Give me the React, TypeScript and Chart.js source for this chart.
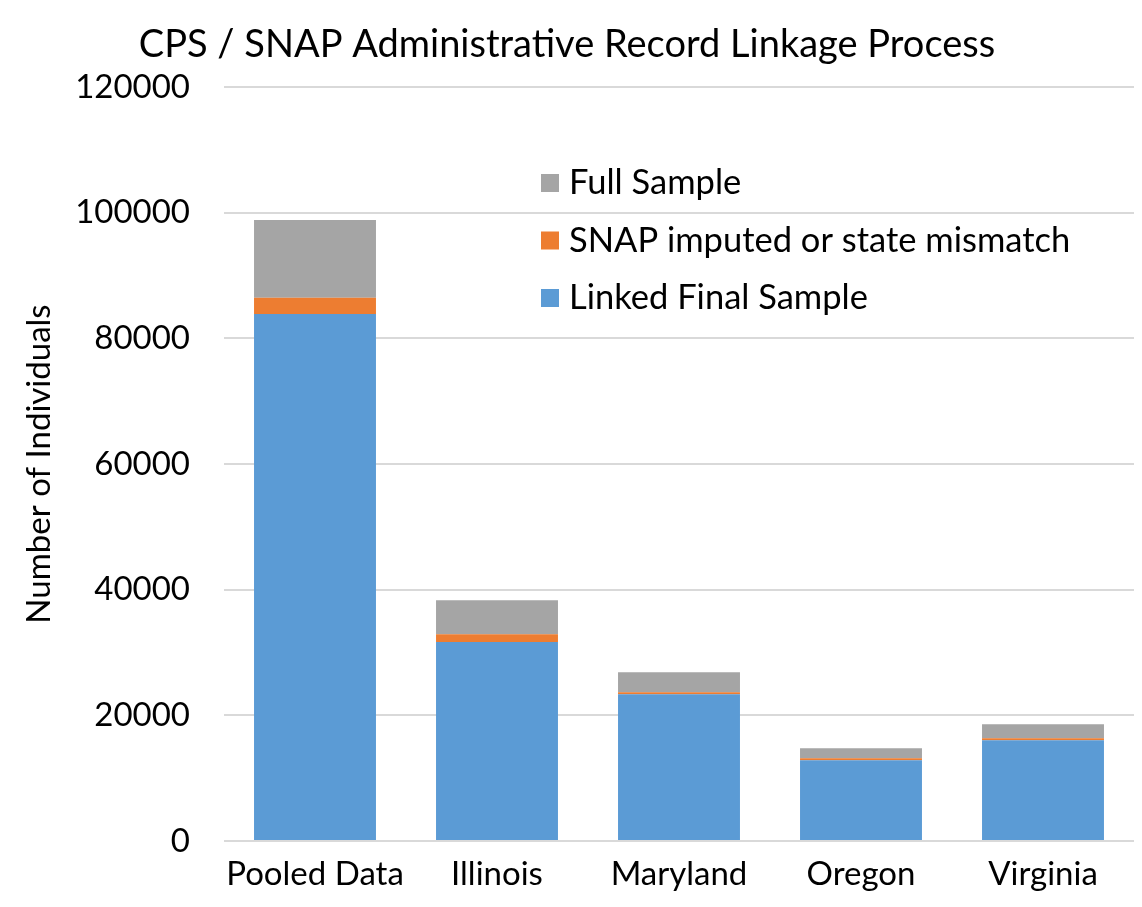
import React, { useEffect, useRef } from "react";
import { Chart, registerables } from "chart.js";

Chart.register(...registerables);

const chartTitle = "CPS / SNAP Administrative Record Linkage Process";
const yAxisTitle = "Number of Individuals";
const categories = ["Pooled Data", "Illinois", "Maryland", "Oregon", "Virginia"];
// stacked segments
const linkedFinalSample = [83870, 31690, 23360, 12850, 16035];
const snapImputedOrMismatch = [2595, 1225, 320, 320, 320];
const fullSampleRemainder = [12370, 5415, 3185, 1590, 2230];
const yTickValues = [0, 20000, 40000, 60000, 80000, 100000, 120000];

const legendItems = [
  { label: "Full Sample", color: "#A5A5A5" },
  { label: "SNAP imputed or state mismatch", color: "#ED7D31" },
  { label: "Linked Final Sample", color: "#5B9BD5" },
];

const FONT = "Lato, 'Open Sans', sans-serif";

const insideLegend = {
  id: "insideLegend",
  afterDraw(chart: any) {
    const { ctx, chartArea } = chart;
    ctx.save();
    ctx.font = `34.5px ${FONT}`;
    ctx.textBaseline = "middle";
    ctx.textAlign = "left";
    legendItems.forEach((it, i) => {
      const y = chartArea.top + 96 + i * 57.5;
      ctx.fillStyle = it.color;
      ctx.fillRect(chartArea.left + 317, y - 9, 18, 18);
      ctx.fillStyle = "#000";
      ctx.fillText(it.label, chartArea.left + 345, y);
    });
    ctx.restore();
  },
};

export default function App() {
  const ref = useRef<HTMLCanvasElement | null>(null);
  useEffect(() => {
    document.body.style.margin = "0";
    const canvas = ref.current;
    if (!canvas) return;
    const chart = new Chart(canvas, {
      type: "bar",
      data: {
        labels: categories,
        datasets: [
          { label: "Linked Final Sample", data: linkedFinalSample, backgroundColor: "#5B9BD5" },
          { label: "SNAP imputed or state mismatch", data: snapImputedOrMismatch, backgroundColor: "#ED7D31" },
          { label: "Full Sample", data: fullSampleRemainder, backgroundColor: "#A5A5A5" },
        ],
      },
      options: {
        animation: false,
        responsive: false,
        maintainAspectRatio: false,
        datasets: { bar: { categoryPercentage: 1, barPercentage: 0.67 } },
        layout: { padding: { top: 0, right: 8, bottom: 0, left: 0 } },
        plugins: {
          legend: { display: false },
          tooltip: { enabled: false },
          title: {
            display: true,
            text: chartTitle,
            color: "#000",
            font: { family: FONT, size: 38, weight: "normal" },
            padding: { top: 22, bottom: 19.4 },
          },
        },
        scales: {
          x: {
            stacked: true,
            grid: { display: false, drawTicks: false },
            border: { display: false },
            ticks: {
              color: "#000",
              font: { family: FONT, size: 33 },
              padding: 14,
              maxRotation: 0,
              minRotation: 0,
              autoSkip: false,
            },
            afterFit(scale: any) {
              scale.height = 66;
            },
          },
          y: {
            stacked: true,
            min: 0,
            max: 120000,
            afterBuildTicks(scale: any) {
              scale.ticks = yTickValues.map((v) => ({ value: v }));
            },
            grid: { color: "#D9D9D9", lineWidth: 2, drawTicks: false },
            border: { display: false },
            ticks: {
              color: "#000",
              font: { family: FONT, size: 33 },
              padding: 34,
              callback: (v: any) => String(v),
            },
            title: {
              display: true,
              text: yAxisTitle,
              color: "#000",
              font: { family: FONT, size: 33 },
              padding: { top: 20, bottom: 0 },
            },
            afterFit(scale: any) {
              scale.width = 224;
            },
          },
        },
      },
      plugins: [insideLegend],
    });
    return () => chart.destroy();
  }, []);
  return (
    <div style={{ width: 1142, height: 907 }}>
      <canvas ref={ref} width={1142} height={907} style={{ display: "block" }} />
    </div>
  );
}
